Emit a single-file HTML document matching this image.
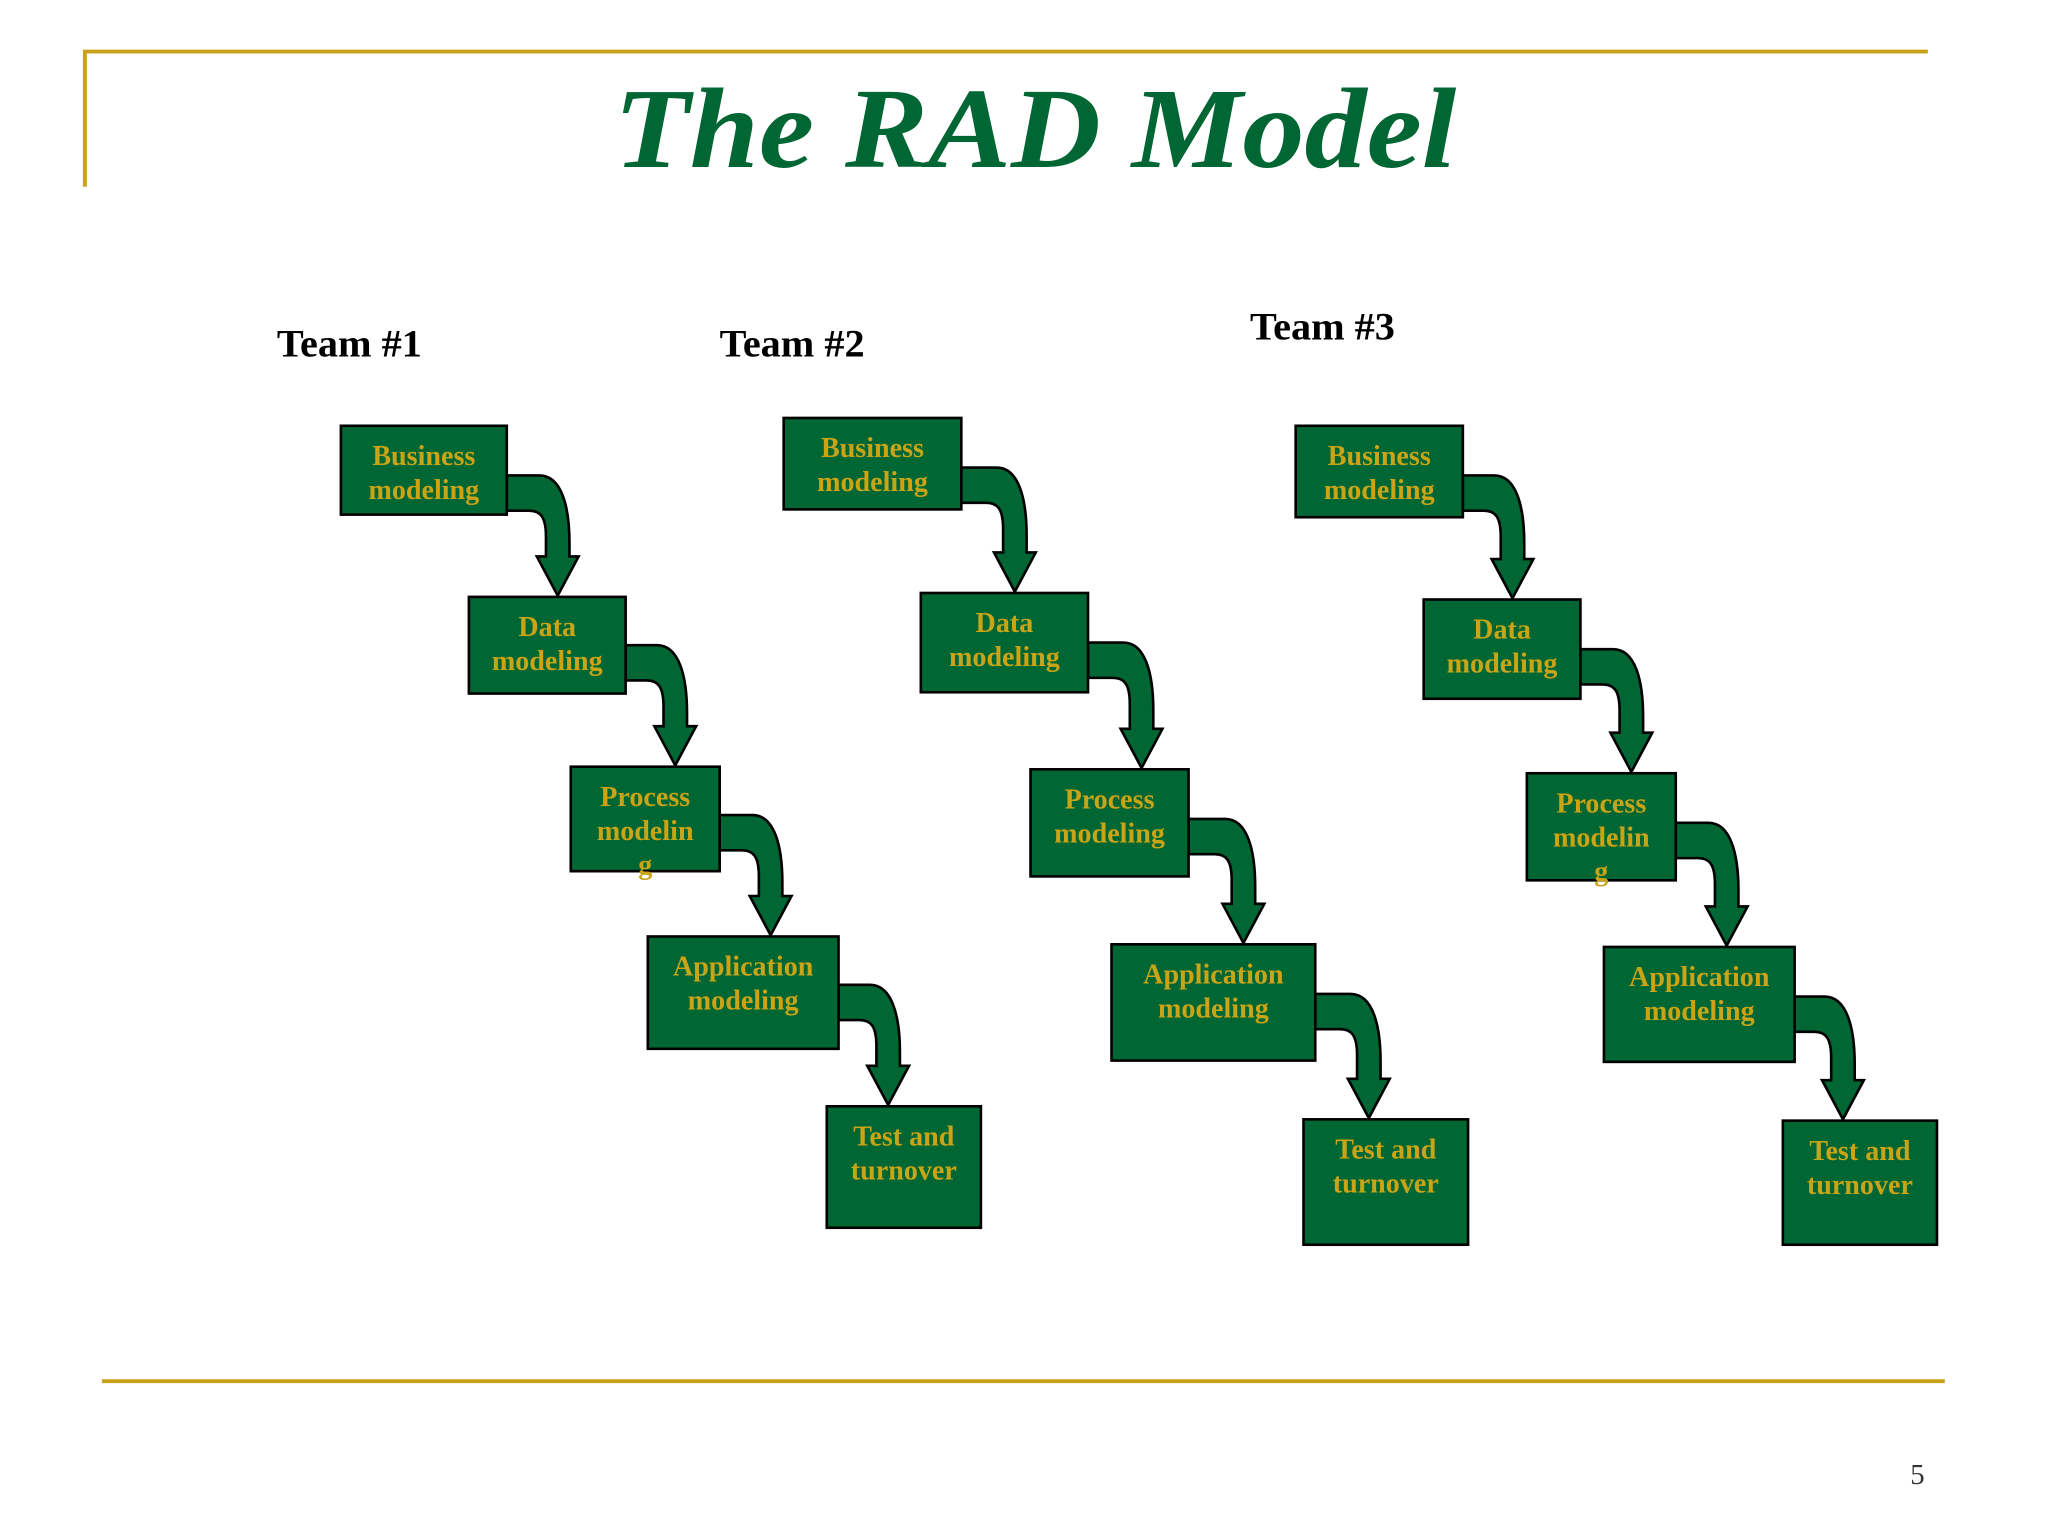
<!DOCTYPE html>
<html><head><meta charset="utf-8"><style>html,body{margin:0;padding:0;background:#fff}svg{display:block}</style></head>
<body>
<svg width="2048" height="1536" viewBox="0 0 1568 1176" xmlns="http://www.w3.org/2000/svg" font-family="Liberation Serif, serif">
<rect width="1568" height="1176" fill="#fff"/>
<path d="M65 143 V39.5 H1476" fill="none" stroke="#c8a21a" stroke-width="3"/>
<line x1="78" y1="1057.5" x2="1489" y2="1057.5" stroke="#c8a21a" stroke-width="3"/>
<text x="470" y="128" font-size="88" font-style="italic" font-weight="bold" fill="#006633" textLength="645" lengthAdjust="spacingAndGlyphs">The RAD Model</text>
<text x="1468" y="1136" font-size="22" text-anchor="middle" fill="#333">5</text>
<g font-size="30" font-weight="bold" fill="#000">
<text x="212" y="273" textLength="111" lengthAdjust="spacingAndGlyphs">Team #1</text><text x="551" y="273" textLength="111" lengthAdjust="spacingAndGlyphs">Team #2</text><text x="957" y="260" textLength="111" lengthAdjust="spacingAndGlyphs">Team #3</text>
</g>
<g id="arrows" fill="#006633" stroke="#000" stroke-width="2" stroke-linejoin="miter"></g>
<g id="boxes"></g>
</svg>
<script>
var ns="http://www.w3.org/2000/svg";
var A=[[388,364,427,456],[479,494,517,586],[551,624,590,716],[642,754,680,846],
[736,358,777,453],[833,492,874,588],[910,627,952,722],[1007,761,1048,856],
[1120,364,1158,458],[1210,497,1249,591],[1283,630,1322,724],[1374,763,1411,857]];
var g=document.getElementById("arrows");
A.forEach(function(a){var x0=a[0],yT=a[1],cx=a[2],tip=a[3],yh=tip-30,yB=yT+27,w=9,h=16;
var d="M"+x0+" "+yT+" H"+(cx-14)+" C"+(cx+3)+" "+yT+" "+(cx+w)+" "+(yT+24)+" "+(cx+w)+" "+(yT+52)+" V"+yh+" H"+(cx+h)+" L"+cx+" "+tip+" L"+(cx-h)+" "+yh+" H"+(cx-w)+" V"+(yB+20)+" C"+(cx-w)+" "+(yB+5)+" "+(cx-13)+" "+yB+" "+(cx-22)+" "+yB+" H"+x0+" Z";
var p=document.createElementNS(ns,"path");p.setAttribute("d",d);g.appendChild(p);});
var B=[[261,326,388,394,["Business","modeling"]],[359,457,479,531,["Data","modeling"]],[437,587,551,667,["Process","modelin","g"]],[496,717,642,803,["Application","modeling"]],[633,847,751,940,["Test and","turnover"]],
[600,320,736,390,["Business","modeling"]],[705,454,833,530,["Data","modeling"]],[789,589,910,671,["Process","modeling"]],[851,723,1007,812,["Application","modeling"]],[998,857,1124,953,["Test and","turnover"]],
[992,326,1120,396,["Business","modeling"]],[1090,459,1210,535,["Data","modeling"]],[1169,592,1283,674,["Process","modelin","g"]],[1228,725,1374,813,["Application","modeling"]],[1365,858,1483,953,["Test and","turnover"]]];
var bg=document.getElementById("boxes");
B.forEach(function(b){var r=document.createElementNS(ns,"rect");
r.setAttribute("x",b[0]);r.setAttribute("y",b[1]);r.setAttribute("width",b[2]-b[0]);r.setAttribute("height",b[3]-b[1]);
r.setAttribute("fill","#006633");r.setAttribute("stroke","#000");r.setAttribute("stroke-width","2");bg.appendChild(r);
var cx=(b[0]+b[2])/2;b[4].forEach(function(s,i){var t=document.createElementNS(ns,"text");
t.setAttribute("x",cx);t.setAttribute("y",b[1]+30+i*26);t.setAttribute("text-anchor","middle");
t.setAttribute("font-size","21.5");t.setAttribute("font-weight","bold");t.setAttribute("fill","#c9a417");t.textContent=s;bg.appendChild(t);});});
</script>
</body></html>
